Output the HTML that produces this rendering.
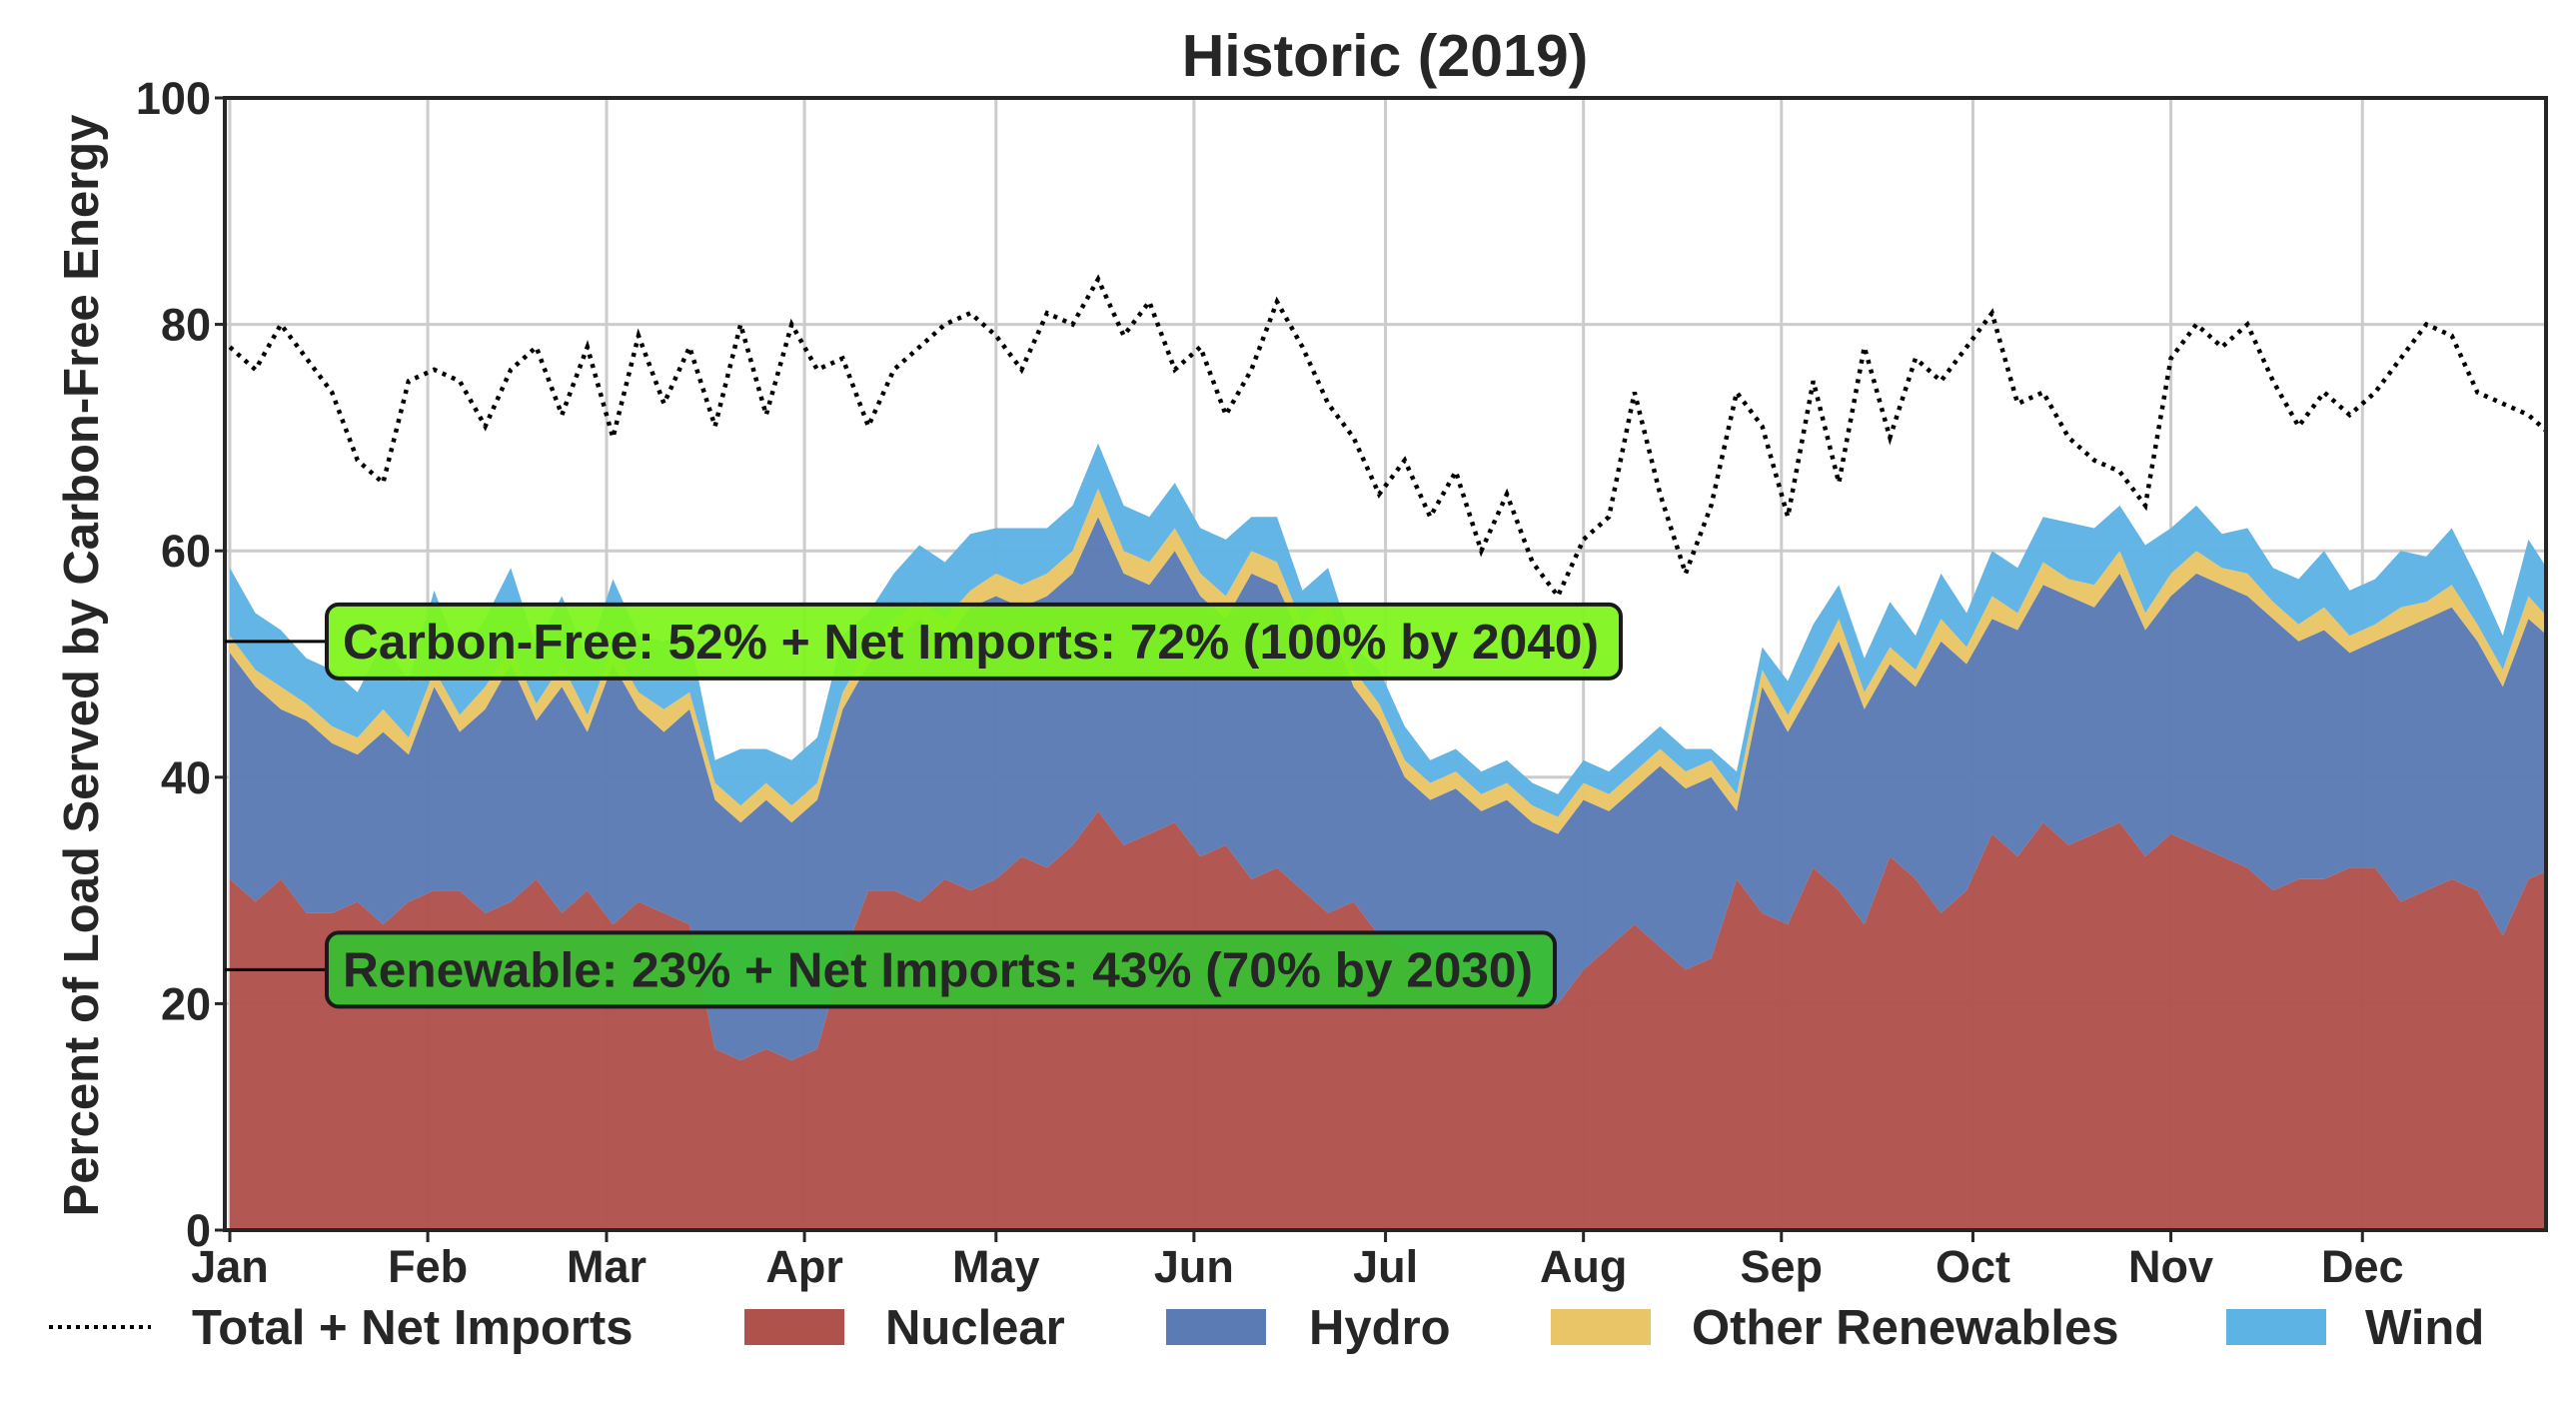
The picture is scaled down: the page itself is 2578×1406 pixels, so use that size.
<!DOCTYPE html>
<html><head><meta charset="utf-8"><style>
body{margin:0;background:#fff;}
svg{display:block;font-family:"Liberation Sans",Arial,sans-serif;font-weight:bold;}
</style></head><body>
<svg id="chart" width="2578" height="1406" viewBox="0 0 2578 1406" xmlns="http://www.w3.org/2000/svg">
<text x="1386" y="76" text-anchor="middle" font-size="59" fill="#262626">Historic (2019)</text>
<text transform="translate(98,666) rotate(-90)" text-anchor="middle" font-size="49" fill="#262626">Percent of Load Served by Carbon-Free Energy</text>
<g id="grid"></g>
<g id="areas"></g>
<g id="line"></g>
<g id="axes"></g>
<g id="annot"></g>
<g id="legend"></g>
</svg>
<script>
const days=[];for(let d=0;d<=364;d+=4)days.push(d);
const nuclear=[31,29,31,28,28,29,27,29,30,30,28,29,31,28,30,27,
29,28,27,16,15,16,15,16,24,30,30,29,31,30,
31,33,32,34,37,34,35,36,
33,34,31,32,30,28,29,26,
25,24,23,22,22,20,20,
23,25,27,25,23,24,31,28,
27,32,30,27,33,31,28,30,
35,33,36,34,35,36,33,
35,34,33,32,30,31,31,32,
32,29,30,31,30,26,31,32];
const hydroTop=[51,48,46,45,43,42,44,42,48,44,46,50,45,48,44,50,
46,44,46,38,36,38,36,38,46,50,52,54,52,55,
56,55,56,58,63,58,57,60,
56,54,58,57,52,54,48,45,
40,38,39,37,38,36,35,
38,37,39,41,39,40,37,48,
44,48,52,46,50,48,52,50,
54,53,57,56,55,58,53,
56,58,57,56,54,52,53,51,
52,53,54,55,52,48,54,52];
const hydro=hydroTop.map((v,i)=>v-nuclear[i]);
const other=[1.5,1.5,2,1.5,1.5,1.5,2,1.5,1.5,1.5,2,1.5,1.5,2,1.5,1.5,
1.5,2,1.5,1.5,1.5,1.5,1.5,1.5,1.5,1.5,2,1.5,2,1.5,
2,2,2,2,2.5,2,2,2,
2,2,2,2,1.5,1.5,1.5,1.5,
1.5,1.5,1.5,1.5,1.5,1.5,1.5,
1.5,1.5,1.5,1.5,1.5,1.5,1.5,1.5,
1.5,1.5,2,1.5,1.5,1.5,2,1.5,
2,1.5,2,1.5,2,2,1.5,
2,2,1.5,2,1.5,1.5,2,1.5,
1.5,2,1.5,2,1.5,1.5,2,1.5];
const wind=[6,5,5,4,5,4,6,5,7,5,6,7,5,6,5,6,
5,6,5,2,5,3,4,4,5,3,4,5,5,5,
4,5,4,4,4,4,4,4,
4,5,3,4,3,3,2,3,
3,2,2,2,2,2,2,
2,2,2,2,2,1,2,2,
3,4,3,3,4,3,4,3,
4,4,4,5,5,4,6,
4,4,3,4,3,4,5,4,
4,5,4,5,4,3,5,4];
const total=[78,76,80,77,74,68,66,75,76,75,71,76,78,72,78,70,
79,73,78,71,80,72,80,76,77,71,76,78,80,81,
79,76,81,80,84,79,82,76,
78,72,76,82,78,73,70,65,
68,63,67,60,65,59,56,
61,63,74,65,58,64,74,71,
63,75,66,78,70,77,75,78,
81,73,74,70,68,67,64,
77,80,78,80,75,71,74,72,
74,77,80,79,74,73,72,70];
const yTicks=[0,20,40,60,80,100];
const months=["Jan","Feb","Mar","Apr","May","Jun","Jul","Aug","Sep","Oct","Nov","Dec"];
const monthStart=[0,31,59,90,120,151,181,212,243,273,304,334];

const L=225,R=2548,T=98,B=1231;
const x=d=>230+d*6.39;
const y=v=>B-(v/100)*(B-T);
const NS='http://www.w3.org/2000/svg';
function mk(tag,attrs,parent){const e=document.createElementNS(NS,tag);for(const k in attrs)e.setAttribute(k,attrs[k]);parent.appendChild(e);return e;}
const svg=document.getElementById('chart');
const defs=mk('defs',{},svg);
const cp=mk('clipPath',{id:'clip'},defs);mk('rect',{x:L,y:T,width:R-L,height:B-T},cp);

const grid=document.getElementById('grid');
yTicks.forEach(v=>{if(v>0&&v<100){const g=mk('line',{x1:L,x2:R,y1:y(v),y2:y(v),stroke:'#cccccc','stroke-width':3},grid);

}});
monthStart.forEach(d=>{const g=mk('line',{x1:x(d),x2:x(d),y1:T,y2:B,stroke:'#cccccc','stroke-width':3},grid);

});

const areas=document.getElementById('areas');areas.setAttribute('clip-path','url(#clip)');
const series=[["nuclear",nuclear,"#b0524c"],["hydro",hydro,"#5a7bb4"],["other-renewables",other,"#eac567"],["wind",wind,"#5db3e3"]];
let base=days.map(()=>0);
series.forEach(([name,vals,col])=>{
  const top=base.map((b,i)=>b+vals[i]);
  let dstr='M'+days.map((d,i)=>x(d).toFixed(1)+','+y(top[i]).toFixed(1)).join('L');
  for(let i=days.length-1;i>=0;i--)dstr+='L'+x(days[i]).toFixed(1)+','+y(base[i]).toFixed(1);
  dstr+='Z';
  const p=mk('path',{d:dstr,fill:col,'fill-opacity':0.97},areas);
  
  
  base=top;
});
const lg=document.getElementById('line');lg.setAttribute('clip-path','url(#clip)');
const tl=mk('path',{d:'M'+days.map((d,i)=>x(d).toFixed(1)+','+y(total[i]).toFixed(1)).join('L'),fill:'none',stroke:'#000','stroke-width':4.5,'stroke-dasharray':'4 6'},lg);



const ax=document.getElementById('axes');
mk('rect',{x:L,y:T,width:R-L,height:B-T,fill:'none',stroke:'#262626','stroke-width':4},ax);
yTicks.forEach(v=>{mk('line',{x1:L-10,x2:L,y1:y(v),y2:y(v),stroke:'#262626','stroke-width':3},ax);
const t=mk('text',{x:L-14,y:y(v)+16,'text-anchor':'end','font-size':45,fill:'#262626'},ax);t.textContent=v;

});
months.forEach((m,i)=>{const xx=x(monthStart[i]);mk('line',{x1:xx,x2:xx,y1:B,y2:B+12,stroke:'#262626','stroke-width':3},ax);
const t=mk('text',{x:xx,y:B+52,'text-anchor':'middle','font-size':45,fill:'#262626'},ax);t.textContent=m;

});

const an=document.getElementById('annot');
[[52,"#7df51a","Carbon-Free: 52% + Net Imports: 72% (100% by 2040)",1295,"carbon-free-annotation"],[23,"#38c030","Renewable: 23% + Net Imports: 43% (70% by 2030)",1229,"renewable-annotation"]].forEach(([v,col,txt,w,nm])=>{
  const yy=y(v);
  mk('line',{x1:L,x2:327,y1:yy,y2:yy,stroke:'#000','stroke-width':3},an);
  const r=mk('rect',{x:327,y:yy-37,width:w,height:74,rx:12,fill:col,'fill-opacity':0.93,stroke:'#1a1a1a','stroke-width':4},an);
  
  
  const t=mk('text',{x:343,y:yy+17,'font-size':49,fill:'#262626',textLength:w-38,lengthAdjust:'spacingAndGlyphs'},an);t.textContent=txt;
  
  
});

const leg=document.getElementById('legend');
const ly=1328;
mk('line',{x1:49,x2:151,y1:ly,y2:ly,stroke:'#000','stroke-width':4,'stroke-dasharray':'4 5'},leg);
const items=[["Total + Net Imports",null,192],["Nuclear","#b0524c",886,745],["Hydro","#5a7bb4",1310,1167],["Other Renewables","#eac567",1693,1552],["Wind","#5db3e3",2367,2228]];
items.forEach(([lab,col,tx,sx])=>{
  if(col){const s=mk('rect',{x:sx,y:ly-18,width:100,height:36,fill:col},leg);
  
  }
  const t=mk('text',{x:tx,y:ly+17,'font-size':49,fill:'#262626'},leg);t.textContent=lab;
  
  
});
</script>
</body></html>
